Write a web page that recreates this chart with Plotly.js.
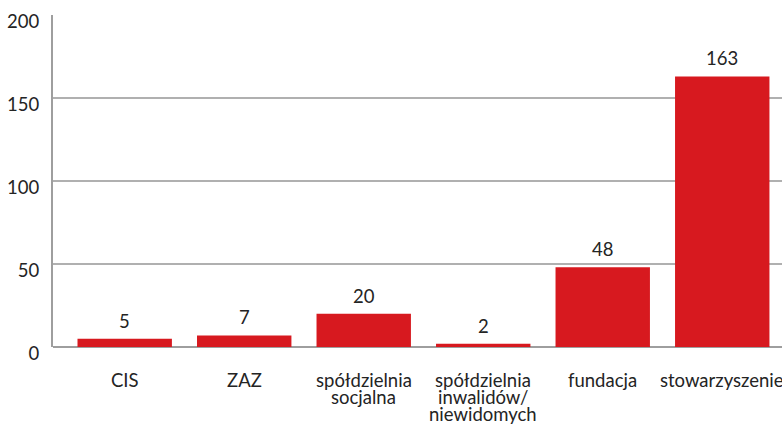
<!DOCTYPE html>
<html>
<head>
<meta charset="utf-8">
<script src="https://cdn.plot.ly/plotly-3.0.1.min.js"></script>
<style>
  html, body { margin: 0; padding: 0; background: #fff; }
  #chart { width: 782px; height: 424px; }
</style>
</head>
<body>
<div id="chart"></div>
<script>
'use strict';

// kategorie i liczby podmiotów
var categories = ['CIS', 'ZAZ', 'spółdzielnia<br>socjalna', 'spółdzielnia<br>inwalidów/<br>niewidomych', 'fundacja', 'stowarzyszenie'];
var values = [5, 7, 20, 2, 48, 163];
var yTicks = [0, 50, 100, 150, 200];

var RED = '#d7191f';
var TEXT = '#242424';
var FONT = 'Lato, "Open Sans", sans-serif';

var trace = {
  type: 'bar',
  x: categories.map(function (c, i) { return i; }),
  y: values,
  marker: { color: RED },
  width: 0.79,
  hoverinfo: 'none'
};

var annotations = [];

// wartości nad słupkami
values.forEach(function (v, i) {
  annotations.push({
    x: i, xref: 'x',
    y: v, yref: 'y',
    yanchor: 'bottom',
    yshift: 5,
    text: String(v),
    showarrow: false,
    font: { family: FONT, size: 18.5, color: TEXT }
  });
});

// etykiety kategorii jako adnotacje (ciaśniejsza interlinia niż w tickach)
categories.forEach(function (c, i) {
  c.split('<br>').forEach(function (line, j) {
    annotations.push({
      x: i, xref: 'x',
      y: 0, yref: 'paper',
      yanchor: 'middle',
      yshift: -33 - j * 17,
      text: line,
      showarrow: false,
      font: { family: FONT, size: 18.5, color: TEXT }
    });
  });
});

var layout = {
  width: 782,
  height: 424,
  margin: { l: 53, r: 0, t: 15, b: 77 },
  paper_bgcolor: '#fff',
  plot_bgcolor: '#fff',
  showlegend: false,
  bargap: 0.21,
  font: { family: FONT, size: 18.5, color: TEXT },
  xaxis: {
    range: [-0.6, 5.5],
    showticklabels: false,
    showgrid: false,
    zeroline: false,
    showline: false,
    fixedrange: true
  },
  yaxis: {
    range: [0, 200],
    tickvals: yTicks,
    ticktext: yTicks.map(String),
    showgrid: true,
    gridcolor: '#b0b0b0',
    gridwidth: 1.5,
    zeroline: true,
    zerolinecolor: '#9e9e9e',
    zerolinewidth: 2.5,
    showline: true,
    linecolor: '#9e9e9e',
    linewidth: 2,
    ticks: '',
    ticklabelstandoff: 8,
    ticklabelshift: 7,
    ticklabeloverflow: 'allow',
    tickfont: { family: FONT, size: 18.5, color: TEXT },
    fixedrange: true
  },
  annotations: annotations
};

Plotly.newPlot('chart', [trace], layout, { displayModeBar: false, staticPlot: true });
</script>
</body>
</html>
